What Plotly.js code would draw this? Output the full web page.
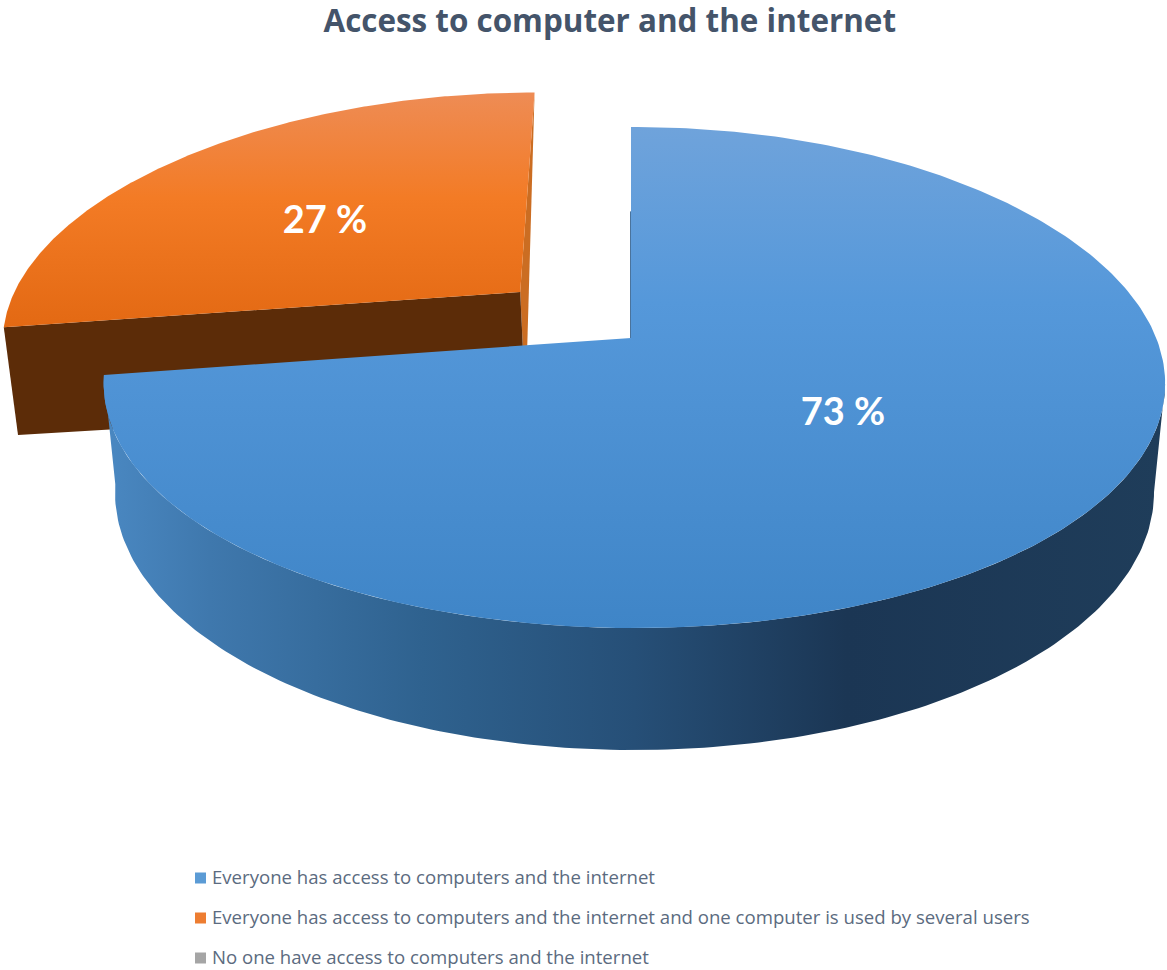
<!DOCTYPE html>
<html>
<head>
<meta charset="utf-8">
<script src="https://cdn.plot.ly/plotly-3.0.1.min.js"></script>
<style>html,body{margin:0;padding:0;background:#fff}#chart{width:1167px;height:970px}</style>
</head>
<body>
<div id="chart"></div>
<script>
// Share of respondents per category, in percent
const categories = [
  'Everyone has access to computers and the internet',
  'Everyone has access to computers and the internet and one computer is used by several users',
  'No one have access to computers and the internet'
];
const shares = [73, 27, 0];
const legendColors = ['#5b9bd5', '#ed7d31', '#a5a5a5'];
const chartTitle = 'Access to computer and the internet';

// Perspective projection of each slice's upper and lower discs onto the page
const blueTop = {x0: 631, y0: 338, a: 524.1, b: 244.3, k: 0.1577, m: -0.0063, bulge: 6};
const blueLow = {x0: 634.5, y0: 452, a: 513, b: 251, k: 0.1577, m: 0, bulge: 0};
const orangeTop = {x0: 628.5, y0: 338, a: 524, b: 244.3, k: 0.1577, m: 0, bulge: 6};
const orangeLow = {x0: 632, y0: 452, a: 515, b: 251, k: 0.1577, m: 0, bulge: 0};
const orangeOffset = {u: -0.213, v: 0.194};
const noOffset = {u: 0, v: 0};

function project(disc, u, v, s) {
  const w = 1 + disc.k * v + disc.m * u;
  return [disc.x0 + disc.a * u / w, disc.y0 - disc.b * v / w + disc.bulge * (s || 0) * (s || 0)];
}
function rim(disc, from, to, off) {
  const pts = [], n = 300;
  for (let i = 0; i <= n; i++) {
    const t = (from + (to - from) * i / n) * 2 * Math.PI;
    pts.push(project(disc, Math.sin(t) + off.u, Math.cos(t) + off.v, Math.sin(t)));
  }
  return pts;
}
function polygon(pts, style) {
  return Object.assign({
    type: 'scatter', mode: 'lines', fill: 'toself', hoverinfo: 'skip', showlegend: false,
    x: pts.map(p => p[0]), y: pts.map(p => p[1]), line: {width: 0}
  }, style);
}

const total = shares.reduce((a, b) => a + b, 0);
const fracs = [];
let acc = 0;
shares.forEach(s => { fracs.push([acc / total, (acc + s) / total]); acc += s; });

const traces = [];

// Detached orange slice: inner wall, front wall, then its top face
{
  const [f0, f1] = fracs[1], off = orangeOffset;
  const apexTop = project(orangeTop, off.u, off.v);
  const apexLow = project(orangeLow, off.u, off.v);
  const far = rim(orangeTop, f1, f1, off)[0];
  const leftTop = rim(orangeTop, f0, f0, off)[0];
  const leftLow = rim(orangeLow, f0, f0, off)[0];
  traces.push(polygon([far, apexLow, apexTop, far], {fillcolor: '#cb6d22'}));
  traces.push(polygon([leftTop, apexTop, apexLow, leftLow, leftTop], {fillcolor: '#5c2c08'}));
  traces.push(polygon([apexTop].concat(rim(orangeTop, f0, f1, off)).concat([apexTop]), {
    fillgradient: {type: 'vertical', colorscale: [[0, '#e36913'], [0.55, '#f37b25'], [1, '#ee8c55']]}
  }));
}

// Main blue slice: curved outer wall, hidden edge sliver, then its top face
{
  const [f0, f1] = fracs[0], off = noOffset;
  // The wall starts where the upper rim reaches its rightmost point, so the
  // silhouette runs straight from there to the lower rim.
  const topRim = rim(blueTop, f0, f1, off);
  const lowRim = rim(blueLow, f0, f1, off);
  let start = 0;
  topRim.forEach((p, i) => { if (p[0] > topRim[start][0]) start = i; });
  const wall = topRim.slice(start).concat(lowRim.slice(start).reverse());
  wall.push(wall[0]);
  traces.push(polygon(wall, {
    fillgradient: {type: 'horizontal', colorscale: [
      [0, '#4a88c2'], [0.1, '#3f78ad'], [0.3, '#2f628f'], [0.5, '#264f77'],
      [0.7, '#1b3654'], [1, '#1f3d5a']
    ]}
  }));
  const apex = project(blueTop, off.u, off.v);
  const edge = topRim[0];
  const mid = [apex[0] + (edge[0] - apex[0]) * 0.6, apex[1] + (edge[1] - apex[1]) * 0.6];
  traces.push({
    type: 'scatter', mode: 'lines', hoverinfo: 'skip', showlegend: false,
    x: [apex[0] - 0.5, mid[0] - 0.5], y: [apex[1], mid[1]],
    line: {color: '#4a739c', width: 1}
  });
  traces.push(polygon([apex].concat(topRim).concat([apex]), {
    fillgradient: {type: 'vertical', colorscale: [[0, '#3f85c7'], [0.65, '#5598da'], [1, '#6fa3db']]}
  }));
}

// Percentage labels on the slices
const labelAnchors = [[843, 415.5], [325, 223.5]];
traces.push({
  type: 'scatter', mode: 'text', hoverinfo: 'skip', showlegend: false,
  x: labelAnchors.map(p => p[0]), y: labelAnchors.map(p => p[1]),
  text: shares.slice(0, 2).map(s => s + ' %'),
  textposition: 'middle center',
  textfont: {family: 'Lato, sans-serif', size: 38, color: '#ffffff', weight: 700}
});

// Key under the pie
const keyMarkerX = 200.5, keyTextX = 212, keyRows = [878, 918, 958];
categories.forEach((name, i) => {
  traces.push({
    type: 'scatter', mode: 'markers', hoverinfo: 'skip', showlegend: false, name: name,
    x: [keyMarkerX], y: [keyRows[i]],
    marker: {symbol: 'square', size: 11, color: legendColors[i]}
  });
  traces.push({
    type: 'scatter', mode: 'text', hoverinfo: 'skip', showlegend: false,
    x: [keyTextX], y: [keyRows[i] + 1.5], text: [name], textposition: 'middle right',
    textfont: {family: '"Open Sans", sans-serif', size: 18.6, color: '#5b6b80'}
  });
});

const layout = {
  width: 1167, height: 970,
  margin: {l: 0, r: 0, t: 0, b: 0},
  paper_bgcolor: '#ffffff', plot_bgcolor: '#ffffff',
  showlegend: false,
  xaxis: {range: [0, 1167], visible: false, fixedrange: true},
  yaxis: {range: [970, 0], visible: false, fixedrange: true},
  title: {
    text: chartTitle, x: 0.5225, xanchor: 'center', y: 0.978, yanchor: 'middle',
    font: {family: '"Open Sans", sans-serif', size: 31.4, color: '#44546a', weight: 700}
  }
};

Plotly.newPlot('chart', traces, layout, {displayModeBar: false, staticPlot: true});
</script>
</body>
</html>
